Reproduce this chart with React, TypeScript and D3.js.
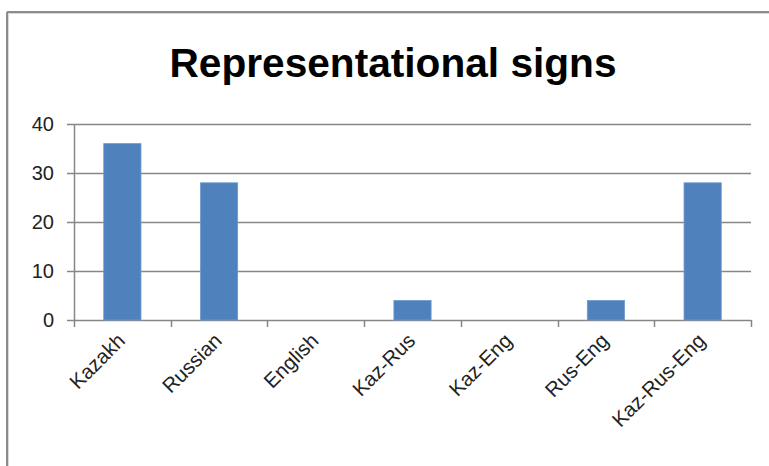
import React from "react";
import * as d3 from "d3";

const categories = ["Kazakh", "Russian", "English", "Kaz-Rus", "Kaz-Eng", "Rus-Eng", "Kaz-Rus-Eng"];
const values = [36, 28, 0, 4, 0, 4, 28];
const yTicks = [0, 10, 20, 30, 40];
const title = "Representational signs";

const W = 769;
const H = 466;
const left = 74;
const right = 751;
const top = 124;
const bottom = 320;

export default function App() {
  const x = d3
    .scaleBand<string>()
    .domain(categories)
    .range([left, right])
    .paddingInner(0.615)
    .paddingOuter(0.3075);
  const y = d3.scaleLinear().domain([0, 40]).range([bottom, top]);
  const step = x.step();
  const boundaries = d3.range(categories.length + 1).map((i) => left + i * step);
  const axisColor = "#878787";
  const font = "'Liberation Sans', Arial, sans-serif";

  return (
    <svg
      width={W}
      height={H}
      style={{ position: "absolute", left: 0, top: 0, background: "#fff" }}
    >
      <rect x={0} y={0} width={W} height={H} fill="#fff" />
      {/* chart border (top & left visible) */}
      <line x1={7} y1={12} x2={W} y2={12} stroke="#8c8c8c" strokeWidth={2} />
      <line x1={7} y1={12} x2={7} y2={H} stroke="#8c8c8c" strokeWidth={2} />
      <line x1={8.5} y1={13.5} x2={W} y2={13.5} stroke="#d9d9d9" strokeWidth={1} />
      <line x1={8.5} y1={13.5} x2={8.5} y2={H} stroke="#d9d9d9" strokeWidth={1} />

      <text
        x={393}
        y={77}
        textAnchor="middle"
        fontFamily="'Liberation Sans Narrow', 'Liberation Sans', Arial, sans-serif"
        fontWeight="bold"
        fontSize={40}
        textLength={447}
        lengthAdjust="spacingAndGlyphs"
        fill="#000"
      >
        {title}
      </text>

      {/* gridlines */}
      {yTicks.map((t) => (
        <line
          key={"g" + t}
          x1={left - 7}
          x2={right}
          y1={Math.round(y(t)) + 0.5}
          y2={Math.round(y(t)) + 0.5}
          stroke={axisColor}
          strokeWidth={1.5}
        />
      ))}
      {/* y axis */}
      <line x1={left + 0.5} x2={left + 0.5} y1={top} y2={bottom + 1} stroke={axisColor} strokeWidth={1.5} />
      {yTicks.map((t) => (
        <text
          key={"yl" + t}
          x={54}
          y={y(t) + 7}
          textAnchor="end"
          fontFamily={font}
          fontSize={20}
          fill="#222"
        >
          {t}
        </text>
      ))}

      {/* bars */}
      {categories.map((c, i) => (
        <rect
          key={"b" + c}
          x={x(c)}
          y={y(values[i])}
          width={x.bandwidth()}
          height={bottom - y(values[i])}
          fill="#4F81BD"
          stroke="#6f9bd0"
          strokeWidth={0.8}
        />
      ))}

      {/* x axis ticks */}
      {boundaries.map((bx, i) => (
        <line
          key={"xt" + i}
          x1={Math.round(bx) + 0.5}
          x2={Math.round(bx) + 0.5}
          y1={bottom}
          y2={bottom + 7}
          stroke={axisColor}
          strokeWidth={1.5}
        />
      ))}
      {/* x labels */}
      {categories.map((c) => {
        const cx = (x(c) as number) + x.bandwidth() / 2;
        return (
          <text
            key={"xl" + c}
            transform={`translate(${cx + 4},${bottom + 22}) rotate(-45)`}
            textAnchor="end"
            fontFamily={font}
            fontSize={20.5}
            fill="#222"
          >
            {c}
          </text>
        );
      })}
    </svg>
  );
}
